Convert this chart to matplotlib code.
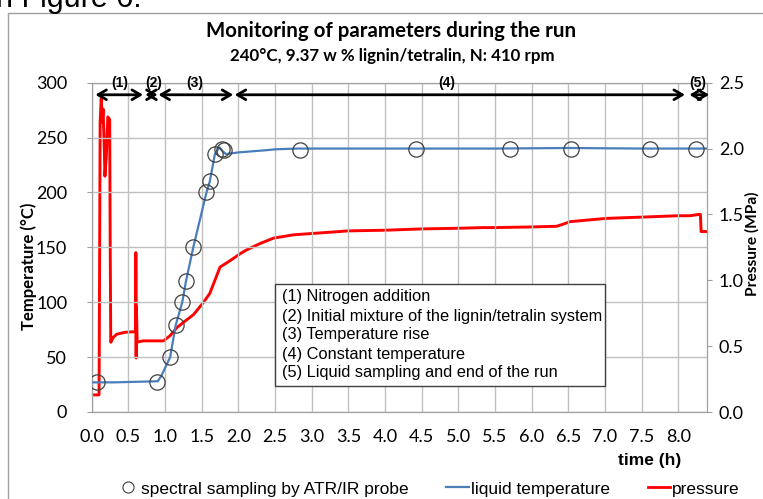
import matplotlib
matplotlib.use("Agg")
import matplotlib.pyplot as plt
from matplotlib.lines import Line2D
from matplotlib.patches import Rectangle

# liquid temperature (blue), time in h / degC
temp_time = [0.02, 0.30, 0.60, 0.90, 0.95, 1.07, 1.145, 1.235, 1.285, 1.385, 1.565, 1.61, 1.68,
             1.74, 1.78, 1.83, 2.00, 2.38, 2.50, 2.80, 3.50, 4.50, 5.50, 6.50, 7.50, 8.38]
temp_val = [27, 27, 27.5, 28, 33, 50, 79, 100, 119, 150, 200, 210, 235,
            241, 238, 235, 236.5, 238.5, 239.3, 240, 240, 240, 240, 240.5, 240, 240]

# pressure (red), time in h / MPa
pres_time = [0.00, 0.10, 0.104, 0.115, 0.13, 0.145, 0.155, 0.172, 0.18, 0.20, 0.22, 0.245,
             0.252, 0.26, 0.295, 0.34, 0.45, 0.600, 0.602, 0.606, 0.610, 0.62, 0.70,
             0.98, 1.07, 1.16, 1.25, 1.39, 1.52, 1.61, 1.68, 1.75, 1.89, 2.02, 2.11,
             2.30, 2.48, 2.75, 3.00, 3.50, 4.00, 4.50, 5.00, 5.34, 5.50, 6.00, 6.34,
             6.45, 6.52, 7.02, 7.52, 8.00, 8.16, 8.28, 8.30, 8.31, 8.38]
pres_val = [0.13, 0.13, 0.60, 2.20, 2.38, 2.20, 2.30, 2.00, 1.79, 1.95, 2.24, 2.22,
            1.30, 0.53, 0.567, 0.59, 0.605, 0.61, 1.21, 0.41, 0.80, 0.53, 0.54,
            0.54, 0.58, 0.64, 0.68, 0.74, 0.83, 0.90, 1.00, 1.10, 1.15, 1.20, 1.23,
            1.28, 1.32, 1.345, 1.355, 1.375, 1.38, 1.39, 1.395, 1.40, 1.40, 1.405, 1.41,
            1.43, 1.445, 1.47, 1.48, 1.49, 1.49, 1.50, 1.50, 1.37, 1.37]

# spectral sampling points (ATR/IR probe)
samp_time = [0.07, 0.89, 1.07, 1.145, 1.235, 1.285, 1.385, 1.565, 1.61, 1.68, 1.78, 1.81,
             2.84, 4.42, 5.70, 6.54, 7.61, 8.24]
samp_temp = [27, 27, 50, 79, 100, 119, 150, 200, 210, 235, 240, 239,
             239, 240, 240, 240, 240, 240]

# phases shown with arrows at the top
phase_labels = ["(1)", "(2)", "(3)", "(4)", "(5)"]
phase_start = [0.05, 0.73, 0.91, 1.95, 8.15]
phase_end = [0.70, 0.90, 1.93, 8.09, 8.42]
phase_text_x = [0.38, 0.84, 1.41, 4.84, 8.27]

phase_notes = ["(1) Nitrogen addition",
               "(2) Initial mixture of the lignin/tetralin system",
               "(3) Temperature rise",
               "(4) Constant temperature",
               "(5) Liquid sampling and end of the run"]

xticks = [i * 0.5 for i in range(17)]

BLUE = "#4a7ebb"
RED = "#ff0000"
GRID = "#c0c0c0"
W, H = 763, 499

fig = plt.figure(figsize=(W / 100, H / 100), dpi=100)
ax = fig.add_axes([91.7 / W, 1 - 412 / H, (707 - 91.7) / W, (412 - 82.7) / H])
ax2 = ax.twinx()

ax.set_xlim(0, 8.39)
ax.set_ylim(0, 300)
ax2.set_ylim(0, 2.5)
ax.set_xticks(xticks)
ax.set_xticklabels([f"{v:.1f}" for v in xticks])
ax.set_yticks(range(0, 301, 50))
ax2.set_yticks([0, 0.5, 1.0, 1.5, 2.0, 2.5])
ax2.set_yticklabels(["0.0", "0.5", "1.0", "1.5", "2.0", "2.5"])
ax.grid(True, color=GRID, lw=1)
ax.set_axisbelow(True)

for a in (ax, ax2):
    for s in a.spines.values():
        s.set_color("#a0a0a0")
    a.tick_params(colors="#a0a0a0", labelcolor="black", labelsize=13, length=3.6, pad=14)
    for lab in a.get_xticklabels() + a.get_yticklabels():
        lab.set_family("Lato")
ax2.tick_params(pad=5)
ax.tick_params(axis="x", length=0, pad=12)

ax2.plot(pres_time, pres_val, color=RED, lw=2.1, zorder=3)
ax.plot(temp_time, temp_val, color=BLUE, lw=1.6, zorder=4)
ax.plot(samp_time, samp_temp, "o", ms=11, mfc="none", mec="#404040", mew=0.9, zorder=5)
ax.set_zorder(ax2.get_zorder() + 1)
ax.patch.set_visible(False)

# phase arrows
for lab, x0, x1, xt in zip(phase_labels, phase_start, phase_end, phase_text_x):
    ax.annotate("", xy=(x0, 289), xytext=(x1, 289),
                arrowprops=dict(arrowstyle="<->,head_length=0.6,head_width=0.35",
                                color="black", lw=2, shrinkA=0, shrinkB=0),
                annotation_clip=False)
    ax.text(xt, 299.5, lab, ha="center", va="center", fontsize=10, fontweight="bold",
            family="Liberation Sans")

# notes box
ax.add_patch(Rectangle((275 / W, 1 - 386 / H), 330 / W, 102 / H, transform=fig.transFigure,
                       fc="white", ec="#404040", lw=1, zorder=6))
for i, note in enumerate(phase_notes):
    fig.text(282 / W, 1 - (297 + 19 * i) / H, note, ha="left", va="center", fontsize=11.8,
             family="Liberation Sans", zorder=7)

ax.set_ylabel("Temperature (°C)", fontsize=12, fontweight="bold", family="Lato")
ax.yaxis.set_label_coords(-(91.7 - 37) / 615.3, (412 - 266) / 329.3)
ax2.set_ylabel("Pressure (MPa)", fontsize=11.2, fontweight="bold", family="Lato")
ax2.yaxis.set_label_coords(1 + (745 - 707) / 615.3, (412 - 244) / 329.3)

fig.text(650 / W, 1 - 461 / H, "time (h)", ha="center", va="center", fontsize=12.5,
         fontweight="bold", family="Liberation Sans")
fig.text(391 / W, 1 - 31 / H, "Monitoring of parameters during the run", ha="center",
         va="center", fontsize=14.8, fontweight="bold", family="Lato")
fig.text(392 / W, 1 - 56 / H, "240°C, 9.37 w % lignin/tetralin, N: 410 rpm", ha="center",
         va="center", fontsize=12.2, fontweight="bold", family="Lato")
fig.text(-0.005, 1 - 7 / H, "n Figure 6.", ha="left", va="baseline", fontsize=22,
         family="Liberation Sans")

# outer chart border
fig.add_artist(Rectangle((8 / W, -0.1), 1.2, 1.1 - 13 / H, transform=fig.transFigure,
                         fill=False, ec="#a0a0a0", lw=1))

handles = [Line2D([], [], ls="none", marker="o", ms=8, mfc="none", mec="#404040", mew=0.8),
           Line2D([], [], color=BLUE, lw=1.6),
           Line2D([], [], color=RED, lw=2)]
fig.legend(handles, ["spectral sampling by ATR/IR probe", "liquid temperature", "pressure"],
           loc="center", bbox_to_anchor=(428 / W, 1 - 489 / H), ncol=3, frameon=False,
           handlelength=1.3, handletextpad=0.1, columnspacing=2.2,
           prop={"family": "Liberation Sans", "size": 12.5})

fig.savefig("out.png", dpi=100)
